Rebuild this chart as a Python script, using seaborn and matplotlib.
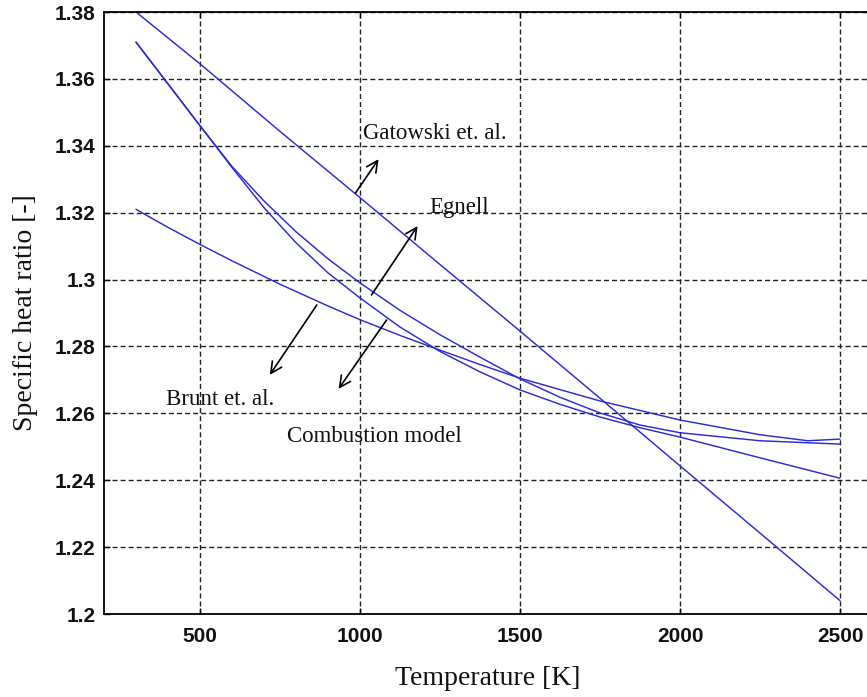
import matplotlib
matplotlib.use("Agg")
import matplotlib.pyplot as plt
import seaborn as sns
import pandas as pd

# ---- data ----
gat_T = [300, 500, 750, 1000, 1250, 1500, 1750, 2000, 2250, 2500]
gat_g = [1.380, 1.3645, 1.3443, 1.3245, 1.3045, 1.2846, 1.2645, 1.2443, 1.2242, 1.204]

brunt_T = [300, 400, 500, 600, 750, 900, 1000, 1125, 1250, 1375, 1500, 1750, 2000, 2250, 2400, 2500]
brunt_g = [1.321, 1.3156, 1.3105, 1.3056, 1.2986, 1.2921, 1.288, 1.2833, 1.2789, 1.2746,
           1.2705, 1.2637, 1.258, 1.2536, 1.2518, 1.2523]

egn_T = [300, 400, 500, 600, 700, 800, 900, 1000, 1125, 1250, 1375, 1500, 1625, 1750, 1875, 2000, 2250, 2500]
egn_g = [1.371, 1.3585, 1.346, 1.3338, 1.3235, 1.3143, 1.3062, 1.299, 1.2908, 1.2835, 1.2768,
         1.2703, 1.2648, 1.2601, 1.2565, 1.2542, 1.2518, 1.2508]

comb_T = [300, 400, 500, 600, 700, 800, 900, 1000, 1125, 1250, 1375, 1500, 1625, 1750, 1875, 2000, 2250, 2500]
comb_g = [1.371, 1.3585, 1.346, 1.3335, 1.3215, 1.311, 1.302, 1.2945, 1.2858, 1.2785, 1.2724,
          1.267, 1.2627, 1.2589, 1.2557, 1.2529, 1.2467, 1.2406]

x_ticks = [500, 1000, 1500, 2000, 2500]
x_ticklabels = ["500", "1000", "1500", "2000", "2500"]
y_ticks = [1.20, 1.22, 1.24, 1.26, 1.28, 1.30, 1.32, 1.34, 1.36, 1.38]
y_ticklabels = ["1.2", "1.22", "1.24", "1.26", "1.28", "1.3", "1.32", "1.34", "1.36", "1.38"]

labels = ["Gatowski et. al.", "Egnell", "Brunt et. al.", "Combustion model"]
label_pos = [(1008, 1.3420), (1217, 1.3199), (393, 1.2625), (771, 1.2514)]
# arrows: (tail, head)
arrows = [((986, 1.3259), (1058, 1.3360)),
          ((1036, 1.2954), (1180, 1.3160)),
          ((865, 1.2924), (718, 1.2715)),
          ((1083, 1.2879), (933, 1.2673))]

sns.set_style("white")
plt.rcParams["lines.scale_dashes"] = False
plt.rcParams["font.family"] = ["Liberation Sans", "DejaVu Sans"]

W, H = 867, 697
fig = plt.figure(figsize=(W / 100, H / 100), dpi=100)
ax = fig.add_axes([104 / W, (H - 614) / H, (872 - 104) / W, (614 - 12) / H])

blue = "#2c2cd4"
for T, g in [(gat_T, gat_g), (brunt_T, brunt_g), (egn_T, egn_g), (comb_T, comb_g)]:
    df = pd.DataFrame({"T": T, "g": g})
    sns.lineplot(data=df, x="T", y="g", ax=ax, color=blue, lw=1.05, sort=False)

ax.set_xlim(200, 2600)
ax.set_ylim(1.2, 1.38)
ax.set_xticks(x_ticks)
ax.set_xticklabels(x_ticklabels)
ax.set_yticks(y_ticks)
ax.set_yticklabels(y_ticklabels)

ax.grid(True, color="#222222", linestyle=(0, (3.6, 2.2)), lw=1.0)
for s in ax.spines.values():
    s.set_color("black")
    s.set_linewidth(1.3)

ax.tick_params(axis="both", which="both", direction="in", length=4.5, width=1.0,
               top=True, right=True, bottom=True, left=True,
               labelsize=15, pad=6, colors="black")
ax.tick_params(axis="x", pad=9)
for lab in ax.get_xticklabels() + ax.get_yticklabels():
    lab.set_fontweight("bold")
    lab.set_color("#111111")

serif = ["Liberation Serif", "DejaVu Serif"]
ax.set_xlabel("Temperature [K]", fontsize=20, family=serif, labelpad=15, color="#111111")
ax.set_ylabel("Specific heat ratio [-]", fontsize=20, family=serif, labelpad=12, color="#111111")

for txt, (x, y) in zip(labels, label_pos):
    ax.text(x, y, txt, fontsize=16.5, family=serif, ha="left", va="baseline", color="#111111")

for (t, h) in arrows:
    ax.annotate("", xy=h, xytext=t,
                arrowprops=dict(arrowstyle="->", color="black", lw=1.2,
                                mutation_scale=20, shrinkA=0, shrinkB=0))

fig.savefig("out.png", dpi=100)
